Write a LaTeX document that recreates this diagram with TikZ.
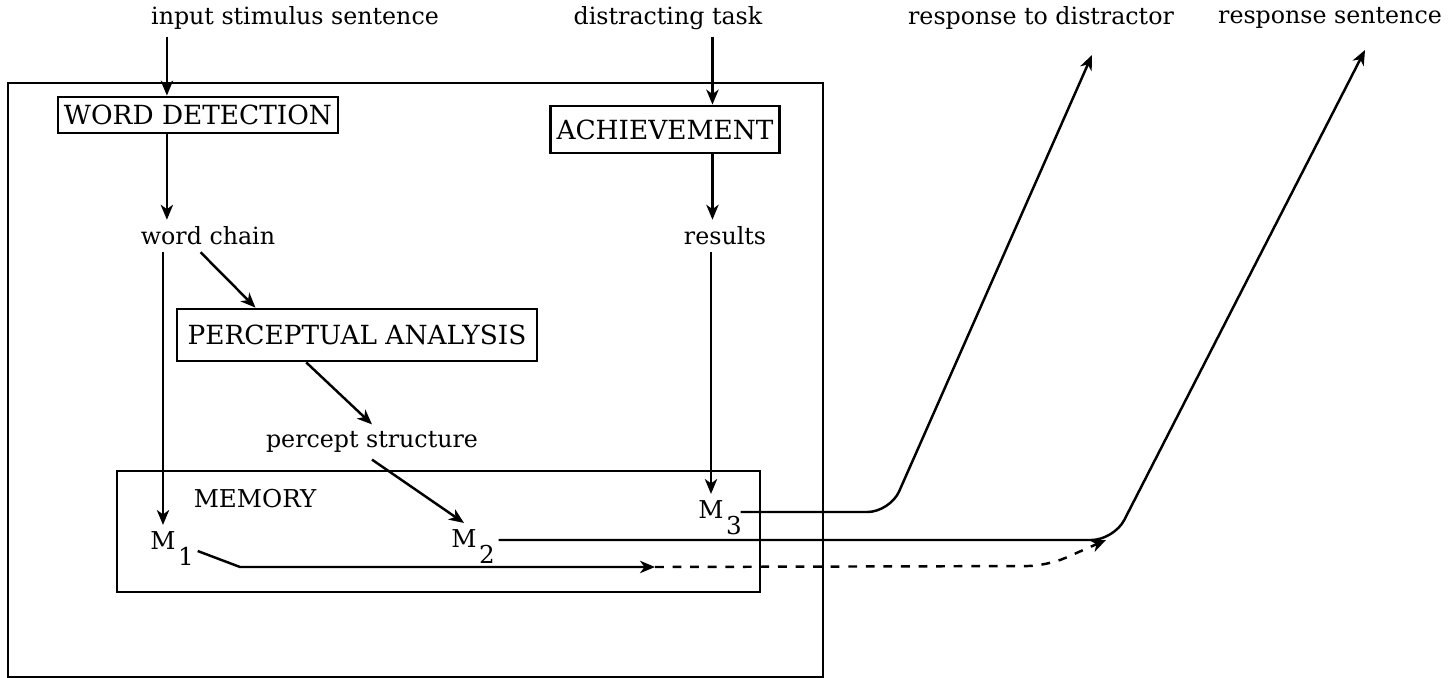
\documentclass[tikz,border=0pt]{standalone}
\usepackage{fontspec}
\setmainfont{DejaVu Serif}
\usetikzlibrary{arrows.meta,calc}

\newcommand{\msub}[2]{#1\rlap{\kern1.5pt\smash{\raisebox{-9pt}{#2}}}}

\begin{document}
\begin{tikzpicture}[x=0.02cm, y=-0.02cm, >={Stealth[length=8.5pt,width=7pt,inset=2.5pt]}, line width=1.4pt,
  frame/.style={draw, line width=1.6pt},
  box/.style={draw, line width=1.6pt, font=\fontsize{15}{17}\selectfont},
  lbl/.style={font=\fontsize{13.5}{16}\selectfont},
  mlbl/.style={font=\fontsize{14}{16}\selectfont}]
  \useasboundingbox (0,0) rectangle (1449,678);

  % frames
  \node[frame, minimum width=16.3cm, minimum height=11.88cm] (system) at (415.5,380) {};
  \node[frame, minimum width=12.86cm, minimum height=2.42cm] (memory) at (438.5,531.5) {};

  % labels outside
  \node[lbl] (input) at (295,18) {input stimulus sentence};
  \node[lbl] (distract) at (668,18) {distracting task};
  \node[lbl] (respd) at (1041,18) {response to distractor};
  \node[lbl] (resps) at (1330,18) {response sentence};

  % processes
  \node[box, minimum width=5.6cm, minimum height=0.72cm] (detect) at (198,115) {WORD DETECTION};
  \node[box, minimum width=4.54cm, minimum height=0.94cm] (achieve) at (665,129.5) {ACHIEVEMENT};
  \node[box, minimum width=7.2cm, minimum height=1.04cm] (percept) at (357,335) {PERCEPTUAL ANALYSIS};

  \node[lbl] (chain) at (208,236) {word chain};
  \node[lbl] (results) at (725,236) {results};
  \node[lbl] (pstruct) at (372,442) {percept structure};

  % memory contents
  \node[box, draw=none, font=\fontsize{14}{16}\selectfont] (memlbl) at (255,499) {MEMORY};
  \node[mlbl] (m1) at (163,541) {\msub{M}{1}};
  \node[mlbl] (m2) at (464,539) {\msub{M}{2}};
  \node[mlbl] (m3) at (711,510) {\msub{M}{3}};

  \coordinate (wdin) at ($(detect.north west)!0.39!(detect.north east)$);
  \coordinate (achin) at ($(achieve.north west)!0.705!(achieve.north east)$);
  \coordinate (dtip) at (1092,55);
  \coordinate (stip) at (1365,50);
  \coordinate (mjoin) at (655,567);
  \coordinate (merge) at (1106,540);

  \draw[->] (input.south -| wdin) -- (wdin);
  \draw[->] (distract.south -| achin) -- (achin);
  \draw[->] (detect.south -| wdin) -- (chain.north -| wdin);
  \draw[->] (achieve.south -| achin) -- (results.north -| achin);
  \draw[->] (chain.south -| m1.north) -- (m1.north);
  \draw[->] (results.south -| m3.north) -- (m3.north);
  \draw[->] ($(chain.south west)!0.45!(chain.south east)$) -- ($(percept.north west)!0.22!(percept.north east)$);
  \draw[->] ($(percept.south west)!0.36!(percept.south east)$) -- (pstruct.north);
  \draw[->] (pstruct.south) -- (m2.north);

  % responses
  \draw[->, rounded corners=0.45cm] ($(m3.east)+(10,2)$) -- (890,512) -- (dtip);
  \draw[->, rounded corners=0.45cm] ($(m2.east)+(15,1)$) -- (1114,540) -- (stip);
  \draw[->] ($(m1.east)+(15,10)$) -- (240,567) -- (mjoin);
  \draw[->, dashed, dash pattern=on 5pt off 5pt, rounded corners=0.4cm] (mjoin) -- (1047,566) -- (merge);
\end{tikzpicture}
\end{document}
